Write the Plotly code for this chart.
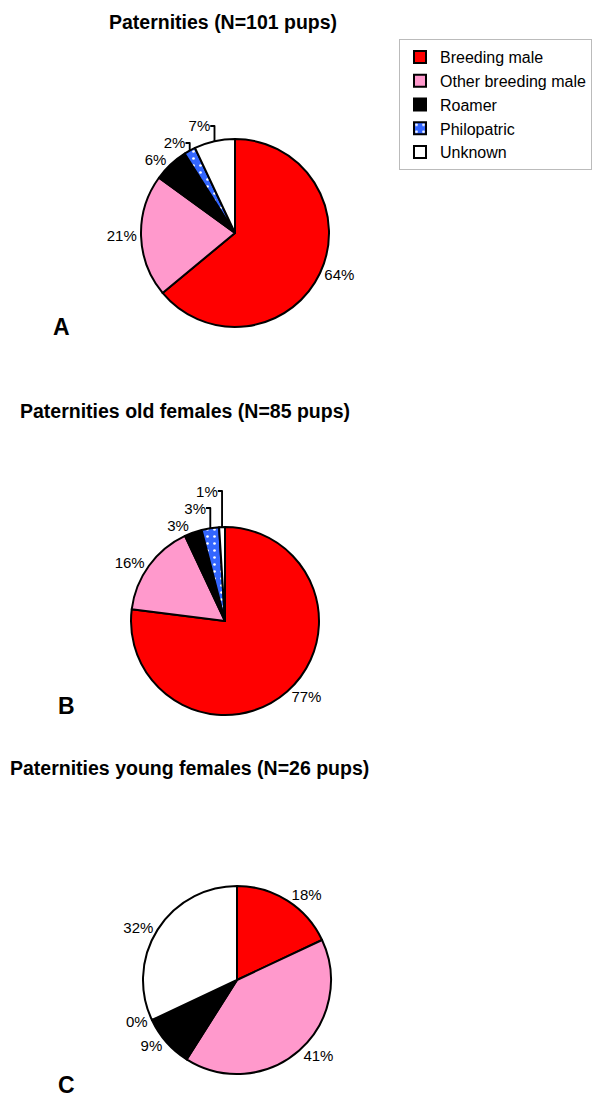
import plotly.graph_objects as go

# page is 600x1109, but the html body has an 8px margin
PAGE_W, PAGE_H = 600, 1109
OFF = 8
W, H = PAGE_W - 2 * OFF, PAGE_H - 2 * OFF

labels = ["Breeding male", "Other breeding male", "Roamer", "Philopatric", "Unknown"]
colors = ["#FF0000", "#FF99CC", "#000000", "#3366FF", "#FFFFFF"]

all_pct = [64, 21, 6, 2, 7]
old_pct = [77, 16, 3, 3, 1]
young_pct = [18, 41, 9, 0, 32]

titles = [
    "Paternities (N=101 pups)",
    "Paternities old females (N=85 pups)",
    "Paternities young females (N=26 pups)",
]
panels = ["A", "B", "C"]


def fx(p):
    return (p - OFF) / W


def fy(p):
    return 1 - (p - OFF) / H


# pie centres and radius in page pixels
centres = [(235, 233), (225, 621), (237, 980)]
R = 94

fig = go.Figure()
for i, vals in enumerate([all_pct, old_pct, young_pct]):
    cx, cy = centres[i]
    fig.add_trace(go.Pie(
        labels=labels,
        values=vals,
        sort=False,
        direction="clockwise",
        rotation=0,
        domain={"x": [fx(cx - R), fx(cx + R)], "y": [fy(cy + R), fy(cy - R)]},
        marker={
            "colors": colors,
            "line": {"color": "black", "width": 2},
            "pattern": {
                "shape": ["", "", "", ".", ""],
                "fgcolor": "white",
                "bgcolor": colors,
                "fillmode": "replace",
                "size": 7,
                "solidity": 0.12,
            },
        },
        texttemplate="%{value}%",
        textposition="outside",
        textfont={"size": 15, "color": "black"},
        showlegend=(i == 0),
        hoverinfo="label+percent",
    ))

title_pos = [(223, 22), (185, 411), (189, 768)]
for (x, y), txt in zip(title_pos, titles):
    fig.add_annotation(x=fx(x), y=fy(y), xref="paper", yref="paper",
                       xanchor="center", yanchor="middle",
                       text=f"<b>{txt}</b>", showarrow=False,
                       font={"size": 19.5, "color": "black"})

panel_pos = [(61, 327), (66, 706), (66, 1085)]
for (x, y), txt in zip(panel_pos, panels):
    fig.add_annotation(x=fx(x), y=fy(y), xref="paper", yref="paper",
                       xanchor="center", yanchor="middle",
                       text=f"<b>{txt}</b>", showarrow=False,
                       font={"size": 23, "color": "black"})

fig.update_layout(
    width=W,
    height=H,
    margin={"l": 0, "r": 0, "t": 0, "b": 0},
    paper_bgcolor="white",
    font={"family": "Arial, Liberation Sans, sans-serif", "color": "black"},
    legend={
        "x": 1, "y": fy(39), "xanchor": "right", "yanchor": "top",
        "bordercolor": "#BBBBBB", "borderwidth": 1,
        "font": {"size": 16},
    },
)
fig.write_html("out.html")
